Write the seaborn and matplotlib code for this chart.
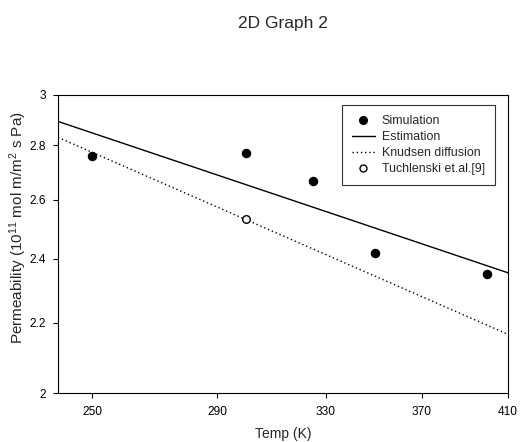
import matplotlib
matplotlib.use('Agg')
import matplotlib.pyplot as plt
import seaborn as sns
import pandas as pd
from matplotlib.ticker import FixedLocator, NullLocator, FixedFormatter
from matplotlib.lines import Line2D

# ---- data ----
temp_sim = [250, 300, 325, 350, 400]
perm_sim = [2.761, 2.770, 2.669, 2.418, 2.350]
temp_est = [240, 410]
perm_est = [2.893, 2.355]
temp_knud = [240, 410]
perm_knud = [2.831, 2.166]
temp_exp = [300]
perm_exp = [2.532]
x_ticks = [250, 290, 330, 370, 410]
x_tick_labels = ['250', '290', '330', '370', '410']
y_ticks = [2, 2.2, 2.4, 2.6, 2.8, 3]
y_tick_labels = ['2', '2.2', '2.4', '2.6', '2.8', '3']
series_names = ['Simulation', 'Estimation', 'Knudsen diffusion', 'Tuchlenski et.al.[9]']

sns.set_theme(style='ticks')
plt.rcParams['font.family'] = ['Liberation Sans', 'DejaVu Sans']
plt.rcParams['mathtext.default'] = 'regular'

W, H = 520, 442
fig = plt.figure(figsize=(W / 100, H / 100), dpi=100)
L, R, T, B = 58, 508, 94.7, 393
ax = fig.add_axes([L / W, 1 - B / H, (R - L) / W, (B - T) / H])

ax.set_xscale('log')
ax.set_yscale('log')

df_est = pd.DataFrame({'T': temp_est, 'P': perm_est})
df_kn = pd.DataFrame({'T': temp_knud, 'P': perm_knud})
df_sim = pd.DataFrame({'T': temp_sim, 'P': perm_sim})
df_exp = pd.DataFrame({'T': temp_exp, 'P': perm_exp})

sns.lineplot(data=df_est, x='T', y='P', ax=ax, color='black', lw=1.0, legend=False)
sns.lineplot(data=df_kn, x='T', y='P', ax=ax, color='black', lw=1.0, ls=(0, (1, 2)), legend=False)
sns.scatterplot(data=df_sim, x='T', y='P', ax=ax, color='black', s=36, edgecolor='black', linewidth=0.8, legend=False, zorder=5)
sns.scatterplot(data=df_exp, x='T', y='P', ax=ax, facecolor='white', s=30, edgecolor='black', linewidth=1.0, legend=False, zorder=5)

ax.set_xlim(240, 410)
ax.set_ylim(2, 3)
ax.xaxis.set_major_locator(FixedLocator(x_ticks))
ax.xaxis.set_major_formatter(FixedFormatter(x_tick_labels))
ax.xaxis.set_minor_locator(NullLocator())
ax.yaxis.set_major_locator(FixedLocator(y_ticks))
ax.yaxis.set_major_formatter(FixedFormatter(y_tick_labels))
ax.yaxis.set_minor_locator(NullLocator())
ax.tick_params(axis='both', direction='out', length=3.5, width=0.8, colors='black', labelsize=8.6)
ax.tick_params(axis='x', pad=6)
ax.tick_params(axis='y', pad=5)
ax.set_xlabel('')
ax.set_ylabel('')
for sp in ax.spines.values():
    sp.set_visible(True)
    sp.set_color('black')
    sp.set_linewidth(0.8)

handles = [
    Line2D([], [], marker='o', color='black', ls='none', markersize=5.5),
    Line2D([], [], color='black', lw=1.0),
    Line2D([], [], color='black', lw=1.0, ls=(0, (1, 2))),
    Line2D([], [], marker='o', markerfacecolor='white', markeredgecolor='black', ls='none', markersize=5),
]
leg = ax.legend(handles, series_names, loc='upper left',
                bbox_to_anchor=((341.7 - L) / (R - L), (B - 105) / (B - T)),
                borderaxespad=0, fancybox=False, frameon=True, fontsize=8.9,
                handlelength=1.9, handletextpad=0.55, labelspacing=0.33,
                borderpad=0.8)
leg.get_frame().set_edgecolor('black')
leg.get_frame().set_linewidth(0.8)

fig.text(283 / W, 1 - 23.3 / H, '2D Graph 2', ha='center', va='center', fontsize=12.5)
fig.text(283 / W, 1 - 434 / H, 'Temp (K)', ha='center', va='center', fontsize=10)
fig.text(18.5 / W, 1 - 228 / H, r'Permeability (10$^{11}$ mol m/m$^2$ s Pa)',
         ha='center', va='center', rotation=90, fontsize=11)

fig.savefig('out.png', dpi=100)
